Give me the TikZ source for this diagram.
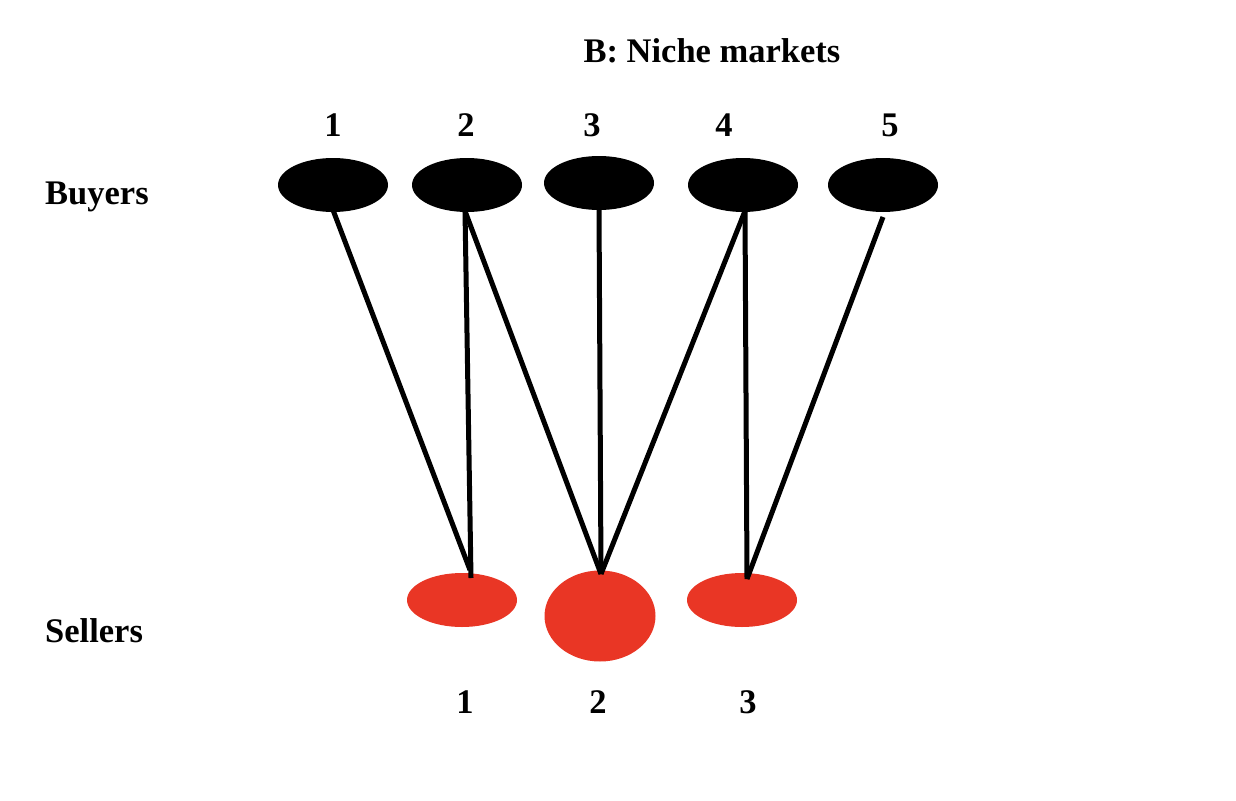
\documentclass[tikz,border=0pt]{standalone}
\usepackage{fontspec}
\setmainfont{Liberation Serif}
\usetikzlibrary{shapes.geometric}
\definecolor{sellerred}{RGB}{233,54,37}
\begin{document}
\begin{tikzpicture}[x=1pt,y=-1pt,
  lbl/.style={font=\fontsize{34.5}{38}\selectfont\bfseries, inner sep=0pt},
  buyer/.style={ellipse, fill=black, minimum width=110pt, minimum height=54pt, inner sep=0pt},
  seller/.style={ellipse, fill=sellerred, minimum width=110pt, minimum height=54pt, inner sep=0pt},
  link/.style={line width=5pt}]
\useasboundingbox (0,0) rectangle (1236,800);
\node[lbl] (title) at (712,51) {B: Niche markets};
\node[lbl, anchor=west] (buyers) at (45,197) {Buyers};
\node[lbl, anchor=west] (sellers) at (45,631) {Sellers};
\node[lbl] (bl1) at (333,125) {1};
\node[lbl] (bl2) at (466,125) {2};
\node[lbl] (bl3) at (592,125) {3};
\node[lbl] (bl4) at (724,125) {4};
\node[lbl] (bl5) at (890,125) {5};
\node[buyer] (b1) at (333,185) {};
\node[buyer] (b2) at (467,185) {};
\node[buyer] (b3) at (599,183) {};
\node[buyer] (b4) at (743,185) {};
\node[buyer] (b5) at (883,185) {};
\node[seller] (s1) at (462,600) {};
\node[seller, minimum width=111pt, minimum height=91pt] (s2) at (600,616) {};
\node[seller] (s3) at (742,600) {};
\node[lbl] (sl1) at (465,702) {1};
\node[lbl] (sl2) at (598,702) {2};
\node[lbl] (sl3) at (748,702) {3};
\coordinate (p1) at (333,210);
\coordinate (p2) at (465,211);
\coordinate (p3) at (599,208);
\coordinate (p4) at (745,211);
\coordinate (p5) at (883,217);
\coordinate (q1) at (470,570);
\coordinate (q1b) at (471,578);
\coordinate (q2) at (601,574);
\coordinate (q3) at (747,579);
\draw[link] (p1) -- (q1);
\draw[link] (p2) -- (q1b);
\draw[link] (p2) -- (q2);
\draw[link] (p3) -- (q2);
\draw[link] (p4) -- (q2);
\draw[link] (p4) -- (q3);
\draw[link] (p5) -- (q3);
\end{tikzpicture}
\end{document}
